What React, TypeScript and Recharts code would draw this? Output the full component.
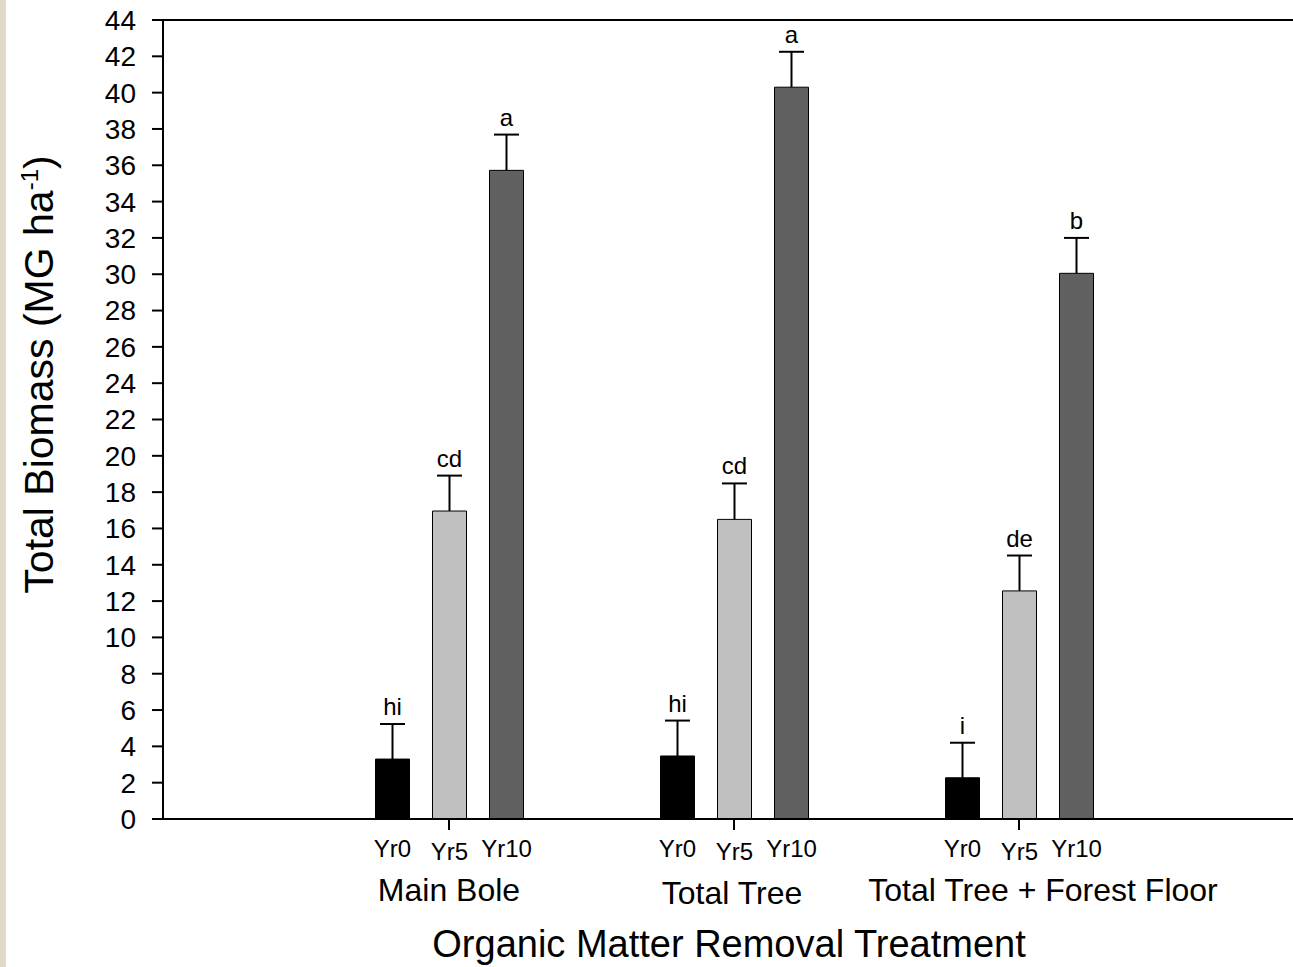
import React from 'react';
import { BarChart, Bar, XAxis, YAxis, LabelList, ReferenceLine } from 'recharts';

const groups = ['Main Bole', 'Total Tree', 'Total Tree + Forest Floor'];
const yr0 = [3.3, 3.47, 2.27];
const yr5 = [16.96, 16.5, 12.56];
const yr10 = [35.72, 40.3, 30.05];
const yr0Err = [1.93, 1.95, 1.93];
const yr5Err = [1.95, 1.98, 1.95];
const yr10Err = [1.97, 1.95, 1.95];
const yr0Letters = ['hi', 'hi', 'i'];
const yr5Letters = ['cd', 'cd', 'de'];
const yr10Letters = ['a', 'a', 'b'];
const yTicks = [0, 2, 4, 6, 8, 10, 12, 14, 16, 18, 20, 22, 24, 26, 28, 30, 32, 34, 36, 38, 40, 42, 44];

const data = groups.map((g, i) => ({ group: g, yr0: yr0[i], yr5: yr5[i], yr10: yr10[i] }));

const series = [
  { key: 'yr0', name: 'Yr0', fill: '#000000', errs: yr0Err, letters: yr0Letters, nameDy: 38 },
  { key: 'yr5', name: 'Yr5', fill: '#c0c0c0', errs: yr5Err, letters: yr5Letters, nameDy: 41 },
  { key: 'yr10', name: 'Yr10', fill: '#606060', errs: yr10Err, letters: yr10Letters, nameDy: 38 },
];

const FONT = '"Liberation Sans", Arial, Helvetica, sans-serif';

const rectOf = (props: any) => {
  const vb = props.viewBox || {};
  return {
    x: props.x ?? vb.x,
    y: props.y ?? vb.y,
    width: props.width ?? vb.width,
    height: props.height ?? vb.height,
  };
};

// upper error bar + significance letter, scaled from the bar's own height/value
const errorLabel = (errs: number[], letters: string[]) => (props: any) => {
  const { x, y, width, height } = rectOf(props);
  const value = Number(props.value);
  const idx = props.index;
  if (!value || idx == null) return null;
  const pxPerUnit = height / value;
  const cx = x + width / 2;
  const top = y - errs[idx] * pxPerUnit;
  return (
    <g>
      <line x1={cx} x2={cx} y1={y} y2={top} stroke="#000" strokeWidth={2} />
      <line x1={cx - 12.5} x2={cx + 12.5} y1={top} y2={top} stroke="#000" strokeWidth={2} />
      <text x={cx} y={top - 9} textAnchor="middle" fontSize={24} fontFamily={FONT} fill="#000">
        {letters[idx]}
      </text>
    </g>
  );
};

const nameLabel = (name: string, dy: number) => (props: any) => {
  const { x, y, width, height } = rectOf(props);
  return (
    <text x={x + width / 2} y={y + height + dy} textAnchor="middle" fontSize={24} fontFamily={FONT} fill="#000">
      {name}
    </text>
  );
};

const groupShift = [0, -2, 24];
const groupDy = [69, 72, 69];

const GroupTick = (props: any) => {
  const { x, y, payload, index } = props;
  return (
    <text x={x + (groupShift[index] || 0)} y={y + (groupDy[index] || 69)} textAnchor="middle" fontSize={32} fontFamily={FONT} fill="#000">
      {payload.value}
    </text>
  );
};

const XTitle = (props: any) => {
  const vb = props.viewBox || {};
  return (
    <text x={vb.x + vb.width / 2 + 1} y={vb.y + 138} textAnchor="middle" fontSize={38} fontFamily={FONT} fill="#000">
      Organic Matter Removal Treatment
    </text>
  );
};

const YTitle = (props: any) => {
  const vb = props.viewBox || {};
  const cx = 53;
  const cy = vb.y + vb.height / 2 - 45;
  return (
    <text x={cx} y={cy} transform={`rotate(-90, ${cx}, ${cy})`} textAnchor="middle" fontSize={41} fontFamily={FONT} fill="#000">
      Total Biomass (MG ha
      <tspan dy={-15} fontSize={24}>-1</tspan>
      <tspan dy={15}>)</tspan>
    </text>
  );
};

export default function App() {
  return (
    <div style={{ position: 'absolute', left: 0, top: 0, width: 1293, height: 967, background: '#fff', overflow: 'hidden' }}>
      <div style={{ position: 'absolute', left: 0, top: 0, width: 6, height: 967, background: '#e2dac9' }} />
      <BarChart
        width={1293}
        height={967}
        data={data}
        margin={{ top: 20, right: 0, bottom: 0, left: 0 }}
        barSize={34}
        barGap={23}
        style={{ fontFamily: FONT }}
      >
        <XAxis
          dataKey="group"
          type="category"
          height={148}
          padding={{ left: 143.5, right: 131.5 }}
          interval={0}
          tickSize={11}
          axisLine={{ stroke: '#000', strokeWidth: 2 }}
          tickLine={{ stroke: '#000', strokeWidth: 2 }}
          tick={<GroupTick />}
          label={{ content: XTitle }}
        />
        <YAxis
          type="number"
          domain={[0, 44]}
          ticks={yTicks}
          interval={0}
          width={163}
          tickSize={11}
          tickMargin={16}
          axisLine={{ stroke: '#000', strokeWidth: 2 }}
          tickLine={{ stroke: '#000', strokeWidth: 2 }}
          tick={{ fontSize: 28, fill: '#000', fontFamily: FONT }}
          label={{ content: YTitle }}
        />
        <ReferenceLine y={44} stroke="#000" strokeWidth={2} />
        {series.map((s) => (
          <Bar key={s.key} dataKey={s.key} name={s.name} fill={s.fill} stroke="#000" strokeWidth={1} isAnimationActive={false}>
            <LabelList dataKey={s.key} content={errorLabel(s.errs, s.letters)} />
            <LabelList dataKey={s.key} content={nameLabel(s.name, s.nameDy)} />
          </Bar>
        ))}
      </BarChart>
    </div>
  );
}
